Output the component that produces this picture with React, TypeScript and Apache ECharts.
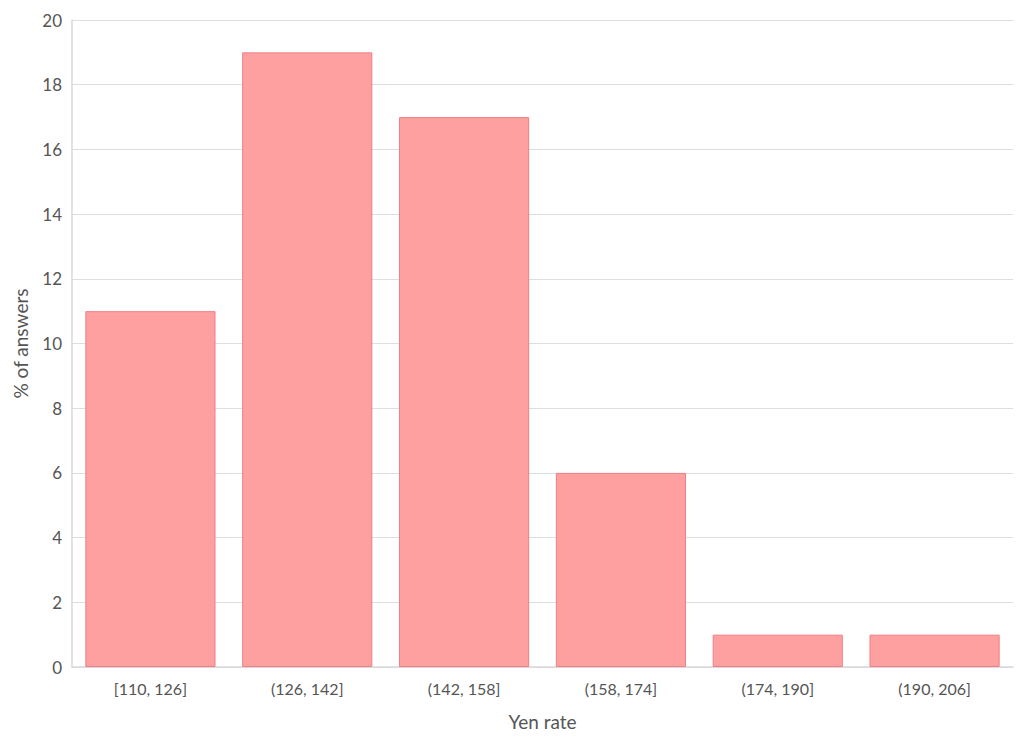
import React, { useEffect, useRef } from "react";
import * as echarts from "echarts";

const categories = ["[110, 126]", "(126, 142]", "(142, 158]", "(158, 174]", "(174, 190]", "(190, 206]"];
const values = [11, 19, 17, 6, 1, 1];

export default function App() {
  const ref = useRef<HTMLDivElement>(null);
  useEffect(() => {
    document.body.style.margin = "0";
    const chart = echarts.init(ref.current!, null, { renderer: "svg" });
    const font = "Lato, 'Open Sans', sans-serif";
    chart.setOption({
      animation: false,
      backgroundColor: "#fff",
      textStyle: { fontFamily: font },
      grid: { left: 72, right: 11, top: 20, bottom: 76 },
      xAxis: {
        type: "category",
        data: categories,
        name: "Yen rate",
        nameLocation: "middle",
        nameGap: 45,
        nameTextStyle: { fontSize: 19, color: "#555", fontFamily: font },
        axisLine: { lineStyle: { color: "#d9d9d9", width: 1.5 } },
        axisTick: { show: false },
        axisLabel: { fontSize: 16, color: "#555", margin: 13, fontFamily: font },
      },
      yAxis: {
        type: "value",
        min: 0,
        max: 20,
        interval: 2,
        name: "% of answers",
        nameLocation: "middle",
        nameGap: 42,
        nameTextStyle: { fontSize: 19, color: "#555", fontFamily: font },
        axisLine: { show: true, lineStyle: { color: "#d9d9d9", width: 1.5 } },
        axisTick: { show: false },
        splitLine: { lineStyle: { color: "#dedede", width: 1 } },
        axisLabel: { fontSize: 17, color: "#555", margin: 10, fontFamily: font },
      },
      series: [
        {
          type: "bar",
          data: values,
          barWidth: "83%",
          itemStyle: { color: "#ffa0a0", borderColor: "#ee7f86", borderWidth: 1 },
        },
      ],
    });
    return () => chart.dispose();
  }, []);
  return <div ref={ref} style={{ width: 1024, height: 743 }} />;
}
